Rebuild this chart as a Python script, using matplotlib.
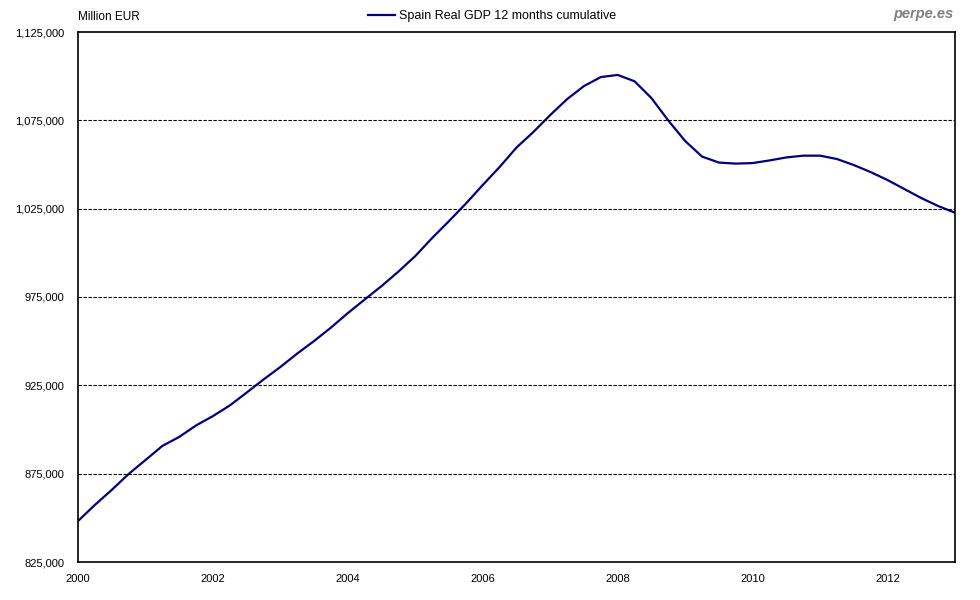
import matplotlib

matplotlib.use("Agg")

import matplotlib.pyplot as plt
import matplotlib.ticker as mticker
import numpy as np

plt.rcParams["font.family"] = ["Liberation Sans", "DejaVu Sans"]

# quarterly, 12 months cumulative real GDP (million EUR), 2000 .. 2013
gdp = [
    848200, 857300, 865800, 874800,
    882700, 890700, 895800, 902300,
    907600, 913600, 920900, 928300,
    935400, 943000, 950100, 957700,
    965900, 973600, 981200, 989400,
    998200, 1008400, 1018000, 1027900,
    1038400, 1048600, 1059600, 1068400,
    1078000, 1087000, 1094400, 1099500,
    1100700, 1097100, 1087600, 1074900,
    1063300, 1054500, 1051100, 1050500,
    1050800, 1052300, 1054000, 1055000,
    1055000, 1053100, 1049700, 1045700,
    1041200, 1036100, 1031000, 1026500,
    1022700,
]
years = 2000 + np.arange(len(gdp)) / 4.0

x_ticks = [2000, 2002, 2004, 2006, 2008, 2010, 2012]
y_ticks = [825000, 875000, 925000, 975000, 1025000, 1075000, 1125000]

fig = plt.figure(figsize=(9.8, 6), dpi=100)
ax = fig.add_axes([78 / 980, 1 - 562 / 600, (955 - 78) / 980, (562 - 32) / 600])

line, = ax.plot(years, gdp, color="#000080", linewidth=1.6,
                label="Spain Real GDP 12 months cumulative")

ax.set_xlim(2000, 2013)
ax.set_ylim(825000, 1125000)
ax.set_xticks(x_ticks)
ax.set_yticks(y_ticks)
ax.yaxis.set_major_formatter(mticker.FuncFormatter(lambda v, p: f"{int(v):,}"))
ax.tick_params(length=0, labelsize=8, colors="black")
ax.tick_params(axis="x", pad=9)
ax.tick_params(axis="y", pad=10)

# dashed gridlines inside the frame
for v in y_ticks[1:-1]:
    ax.axhline(v, color="black", linestyle=(0, (3, 1.5)), linewidth=0.8)

for s in ax.spines.values():
    s.set_color("black")
    s.set_linewidth(1.2)

fig.text(78 / 980, 1 - 17 / 600, "Million EUR", fontsize=8.5,
         ha="left", va="center")
fig.text(953 / 980, 1 - 14 / 600, "perpe.es", fontsize=10.5, color="#808080",
         fontweight="bold", style="italic", ha="right", va="center")
fig.legend(handles=[line], loc="center", bbox_to_anchor=(492 / 980, 1 - 16 / 600),
           frameon=False, fontsize=9, handlelength=2.2, handletextpad=0.3)

plt.savefig("out.png", dpi=100)
plt.close()
